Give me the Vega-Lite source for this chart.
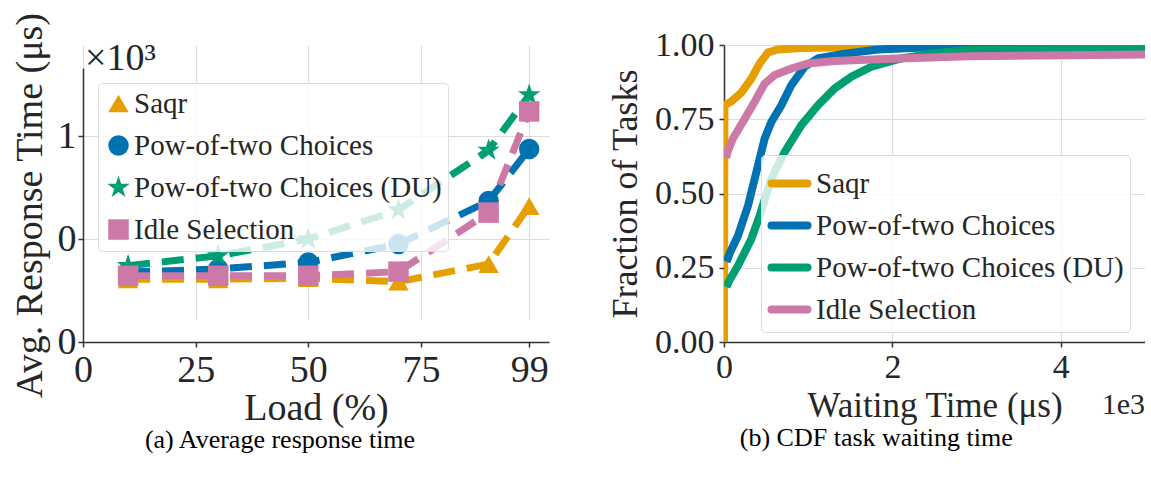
{
  "$schema": "https://vega.github.io/schema/vega-lite/v6.json",
  "padding": {"left": 10, "top": 12, "right": 0, "bottom": 0},
  "autosize": {"type": "pad"},
  "background": "white",
  "config": {
    "font": "Liberation Serif",
    "view": {"stroke": null},
    "axis": {
      "domainColor": "#333333", "domainWidth": 1.5,
      "tickColor": "#333333", "tickWidth": 1.5, "tickSize": 5,
      "gridColor": "#dcdcdc", "gridWidth": 1.2,
      "labelColor": "#262626", "titleColor": "#262626",
      "labelFont": "Liberation Serif", "titleFont": "Liberation Serif",
      "titleFontWeight": "normal"
    },
    "legend": {
      "labelFont": "Liberation Serif", "labelColor": "#262626",
      "fillColor": "rgba(255,255,255,0.8)", "strokeColor": "#dddddd",
      "cornerRadius": 4, "padding": 8, "zindex": 1, "labelLimit": 600
    },
    "title": {"font": "Liberation Serif", "fontWeight": "normal", "color": "#000000"}
  },
  "datasets": {
    "avg": [
      {"series": "Saqr", "load": 10, "resp": 305},
      {"series": "Saqr", "load": 30, "resp": 305},
      {"series": "Saqr", "load": 50, "resp": 310},
      {"series": "Saqr", "load": 70, "resp": 293},
      {"series": "Saqr", "load": 90, "resp": 379},
      {"series": "Saqr", "load": 99, "resp": 661},
      {"series": "Pow-of-two Choices", "load": 10, "resp": 340},
      {"series": "Pow-of-two Choices", "load": 30, "resp": 355},
      {"series": "Pow-of-two Choices", "load": 50, "resp": 387},
      {"series": "Pow-of-two Choices", "load": 70, "resp": 476},
      {"series": "Pow-of-two Choices", "load": 90, "resp": 685},
      {"series": "Pow-of-two Choices", "load": 99, "resp": 938},
      {"series": "Pow-of-two Choices (DU)", "load": 10, "resp": 371},
      {"series": "Pow-of-two Choices (DU)", "load": 30, "resp": 419},
      {"series": "Pow-of-two Choices (DU)", "load": 50, "resp": 500},
      {"series": "Pow-of-two Choices (DU)", "load": 70, "resp": 642},
      {"series": "Pow-of-two Choices (DU)", "load": 90, "resp": 932},
      {"series": "Pow-of-two Choices (DU)", "load": 99, "resp": 1201},
      {"series": "Idle Selection", "load": 10, "resp": 322},
      {"series": "Idle Selection", "load": 30, "resp": 322},
      {"series": "Idle Selection", "load": 50, "resp": 322},
      {"series": "Idle Selection", "load": 70, "resp": 342},
      {"series": "Idle Selection", "load": 90, "resp": 629},
      {"series": "Idle Selection", "load": 99, "resp": 1121}
    ],
    "cdf": [
      {"series": "Saqr", "wait": 0, "frac": 0},
      {"series": "Saqr", "wait": 5, "frac": 0.797},
      {"series": "Saqr", "wait": 87, "frac": 0.81},
      {"series": "Saqr", "wait": 206, "frac": 0.84},
      {"series": "Saqr", "wait": 325, "frac": 0.887},
      {"series": "Saqr", "wait": 424, "frac": 0.938},
      {"series": "Saqr", "wait": 523, "frac": 0.975},
      {"series": "Saqr", "wait": 642, "frac": 0.985},
      {"series": "Saqr", "wait": 919, "frac": 0.99},
      {"series": "Saqr", "wait": 1790, "frac": 0.994},
      {"series": "Saqr", "wait": 5000, "frac": 0.996},
      {"series": "Pow-of-two Choices", "wait": 30, "frac": 0.27},
      {"series": "Pow-of-two Choices", "wait": 70, "frac": 0.3},
      {"series": "Pow-of-two Choices", "wait": 166, "frac": 0.358},
      {"series": "Pow-of-two Choices", "wait": 285, "frac": 0.459},
      {"series": "Pow-of-two Choices", "wait": 384, "frac": 0.572},
      {"series": "Pow-of-two Choices", "wait": 483, "frac": 0.685},
      {"series": "Pow-of-two Choices", "wait": 562, "frac": 0.741},
      {"series": "Pow-of-two Choices", "wait": 681, "frac": 0.797},
      {"series": "Pow-of-two Choices", "wait": 800, "frac": 0.865},
      {"series": "Pow-of-two Choices", "wait": 958, "frac": 0.927},
      {"series": "Pow-of-two Choices", "wait": 1117, "frac": 0.955},
      {"series": "Pow-of-two Choices", "wait": 1434, "frac": 0.971},
      {"series": "Pow-of-two Choices", "wait": 1830, "frac": 0.985},
      {"series": "Pow-of-two Choices", "wait": 2305, "frac": 0.991},
      {"series": "Pow-of-two Choices", "wait": 2899, "frac": 0.994},
      {"series": "Pow-of-two Choices", "wait": 5000, "frac": 0.995},
      {"series": "Pow-of-two Choices (DU)", "wait": 30, "frac": 0.185},
      {"series": "Pow-of-two Choices (DU)", "wait": 60, "frac": 0.205},
      {"series": "Pow-of-two Choices (DU)", "wait": 166, "frac": 0.257},
      {"series": "Pow-of-two Choices (DU)", "wait": 325, "frac": 0.347},
      {"series": "Pow-of-two Choices (DU)", "wait": 424, "frac": 0.426},
      {"series": "Pow-of-two Choices (DU)", "wait": 562, "frac": 0.55},
      {"series": "Pow-of-two Choices (DU)", "wait": 721, "frac": 0.64},
      {"series": "Pow-of-two Choices (DU)", "wait": 919, "frac": 0.73},
      {"series": "Pow-of-two Choices (DU)", "wait": 1117, "frac": 0.797},
      {"series": "Pow-of-two Choices (DU)", "wait": 1315, "frac": 0.854},
      {"series": "Pow-of-two Choices (DU)", "wait": 1513, "frac": 0.893},
      {"series": "Pow-of-two Choices (DU)", "wait": 1750, "frac": 0.927},
      {"series": "Pow-of-two Choices (DU)", "wait": 2107, "frac": 0.955},
      {"series": "Pow-of-two Choices (DU)", "wait": 2503, "frac": 0.972},
      {"series": "Pow-of-two Choices (DU)", "wait": 2899, "frac": 0.983},
      {"series": "Pow-of-two Choices (DU)", "wait": 3650, "frac": 0.986},
      {"series": "Pow-of-two Choices (DU)", "wait": 5000, "frac": 0.987},
      {"series": "Idle Selection", "wait": 25, "frac": 0.62},
      {"series": "Idle Selection", "wait": 48, "frac": 0.645},
      {"series": "Idle Selection", "wait": 107, "frac": 0.685},
      {"series": "Idle Selection", "wait": 246, "frac": 0.752},
      {"series": "Idle Selection", "wait": 364, "frac": 0.809},
      {"series": "Idle Selection", "wait": 483, "frac": 0.87},
      {"series": "Idle Selection", "wait": 602, "frac": 0.899},
      {"series": "Idle Selection", "wait": 800, "frac": 0.921},
      {"series": "Idle Selection", "wait": 998, "frac": 0.938},
      {"series": "Idle Selection", "wait": 1315, "frac": 0.946},
      {"series": "Idle Selection", "wait": 1909, "frac": 0.953},
      {"series": "Idle Selection", "wait": 2899, "frac": 0.962},
      {"series": "Idle Selection", "wait": 5000, "frac": 0.968}
    ]
  },
  "spacing": 58,
  "resolve": {
    "scale": {"color": "independent", "shape": "independent"},
    "legend": {"color": "independent", "shape": "independent"}
  },
  "hconcat": [
    {
      "title": {"text": "(a) Average response time", "orient": "bottom", "anchor": "middle", "frame": "bounds", "fontSize": 26, "offset": 0},
      "vconcat": [
        {
          "width": 466,
          "height": 297,
          "title": {"text": "×10³", "anchor": "start", "frame": "group", "fontSize": 38, "offset": -66, "dx": 2, "color": "#262626"},
          "data": {"name": "avg"},
          "encoding": {
            "x": {
              "field": "load", "type": "quantitative",
              "scale": {"domain": [0, 103.4], "nice": false, "zero": false},
              "axis": {"values": [0, 25, 50, 75, 99], "title": "Load (%)", "labelFontSize": 38, "titleFontSize": 38, "labelPadding": 4, "titlePadding": 0, "labelFlush": false}
            },
            "y": {
              "field": "resp", "type": "quantitative",
              "scale": {"domain": [0, 1332], "nice": false, "range": [297, 23]},
              "axis": {"values": [0, 500, 1000], "labelExpr": "'' + floor(datum.value / 1000)", "title": "Avg. Response Time (μs)", "labelFontSize": 38, "titleFontSize": 38, "labelPadding": 2, "titlePadding": 8}
            }
          },
          "layer": [
            {
              "mark": {"type": "line", "strokeWidth": 7, "strokeDash": [22, 12]},
              "encoding": {
                "color": {
                  "field": "series", "type": "nominal",
                  "scale": {"domain": ["Saqr", "Pow-of-two Choices", "Pow-of-two Choices (DU)", "Idle Selection"], "range": ["#E69F00", "#0072B2", "#009E73", "#CC79A7"]},
                  "legend": {"title": null, "orient": "none", "legendX": 15, "legendY": 38, "padding": 6, "labelFontSize": 29, "symbolSize": 420, "symbolStrokeWidth": 0, "rowPadding": 12, "labelOffset": 1, "symbolOpacity": 1}
                }
              }
            },
            {
              "mark": {"type": "point", "filled": true, "opacity": 1, "size": 420},
              "encoding": {
                "color": {
                  "field": "series", "type": "nominal",
                  "scale": {"domain": ["Saqr", "Pow-of-two Choices", "Pow-of-two Choices (DU)", "Idle Selection"], "range": ["#E69F00", "#0072B2", "#009E73", "#CC79A7"]},
                  "legend": {"title": null, "orient": "none", "legendX": 15, "legendY": 38, "padding": 6, "labelFontSize": 29, "symbolSize": 420, "symbolStrokeWidth": 0, "rowPadding": 12, "labelOffset": 1, "symbolOpacity": 1}
                },
                "shape": {
                  "field": "series", "type": "nominal",
                  "scale": {"domain": ["Saqr", "Pow-of-two Choices", "Pow-of-two Choices (DU)", "Idle Selection"], "range": ["triangle-up", "circle", "M0,-1.15L0.258,-0.355L1.094,-0.355L0.417,0.136L0.676,0.93L0,0.439L-0.676,0.93L-0.417,0.136L-1.094,-0.355L-0.258,-0.355Z", "square"]},
                  "legend": {"title": null, "orient": "none", "legendX": 15, "legendY": 38, "padding": 6, "labelFontSize": 29, "symbolSize": 420, "symbolStrokeWidth": 0, "rowPadding": 12, "labelOffset": 1, "symbolOpacity": 1}
                }
              }
            }
          ]
        }
      ]
    },
    {
      "title": {"text": "(b) CDF task waiting time", "orient": "bottom", "anchor": "middle", "frame": "bounds", "fontSize": 26, "offset": 2},
      "vconcat": [
        {
          "width": 421,
          "height": 297,
          "title": {"text": "1e3", "orient": "bottom", "anchor": "end", "frame": "group", "fontSize": 30, "offset": -33, "color": "#262626"},
          "data": {"name": "cdf"},
          "mark": {"type": "line", "strokeWidth": 8, "clip": true},
          "encoding": {
            "x": {
              "field": "wait", "type": "quantitative",
              "scale": {"domain": [0, 5000], "nice": false},
              "axis": {"values": [0, 2000, 4000], "labelExpr": "'' + datum.value / 1000", "title": "Waiting Time (μs)", "labelFontSize": 34, "titleFontSize": 35, "labelPadding": 3, "titlePadding": 4, "labelFlush": false}
            },
            "y": {
              "field": "frac", "type": "quantitative",
              "scale": {"domain": [0, 1], "nice": false},
              "axis": {"values": [0, 0.25, 0.5, 0.75, 1], "format": ".2f", "title": "Fraction of Tasks", "labelFontSize": 34, "titleFontSize": 36, "labelPadding": 5, "titlePadding": 10}
            },
            "color": {
              "field": "series", "type": "nominal",
              "scale": {"domain": ["Saqr", "Pow-of-two Choices", "Pow-of-two Choices (DU)", "Idle Selection"], "range": ["#E69F00", "#0072B2", "#009E73", "#CC79A7"]},
              "legend": {"title": null, "orient": "none", "legendX": 37, "legendY": 110, "padding": 6, "labelFontSize": 29, "symbolType": "stroke", "symbolStrokeWidth": 8, "symbolSize": 1300, "rowPadding": 3, "labelOffset": 4, "encode": {"symbols": {"update": {"strokeCap": {"value": "round"}}}}}
            }
          }
        }
      ]
    }
  ]
}
